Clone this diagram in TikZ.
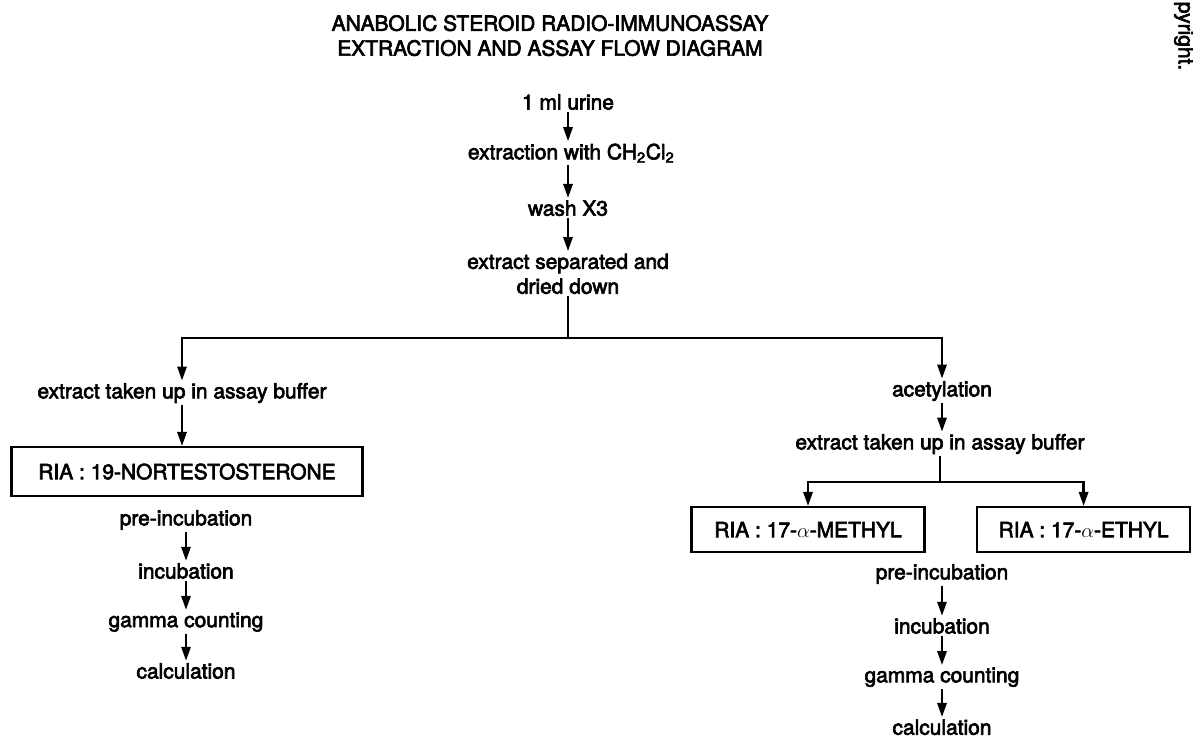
\documentclass[tikz,border=0pt]{standalone}
\usepackage{fontspec}
\setmainfont{TeX Gyre Heros}[FakeBold=3]
\usetikzlibrary{calc, arrows.meta}

\begin{document}
\begin{tikzpicture}[font=\fontsize{14.9}{17.7}\selectfont, >={Triangle[length=10pt, width=6.5pt]}]
    \tikzstyle{stage} = [inner xsep=3pt, inner ysep=1.5pt]
    \tikzstyle{ria} = [rectangle, draw=black, line width=1.5pt, inner sep=2pt]
    \tikzstyle{flow} = [line width=1.8pt]

    \useasboundingbox (0, 0) rectangle (29.825, -18.5);

    % Title ---------------------------------------------
    \node (title) at (13.75, -0.89) [align=center] {ANABOLIC STEROID RADIO-IMMUNOASSAY\\EXTRACTION AND ASSAY FLOW DIAGRAM};
    \node (margin) at (29.6, -0.9) [rotate=-90] {pyright.};

    % Extraction ----------------------------------------
    \node (U) at (14.2, -2.55) [stage] {1 ml urine};
    \node (E) at ($(U) + (.08, -1.28)$) [stage] {extraction with CH\textsubscript{2}Cl\textsubscript{2}};
    \node (W) at ($(E) + (-.08, -1.375)$) [stage] {wash X3};
    \node (S) at ($(W) + (0, -1.64)$) [stage, align=center] {extract separated and\\dried down};
    \coordinate (J) at ($(S) + (0, -1.6)$);

    \draw [flow, ->] (U) -- (U |- E.north);
    \draw [flow, ->] (U |- E.south) -- (W);
    \draw [flow, ->] (W) -- (S);
    \draw [flow] (S) -- (J);
    % ---------------------------------------------------

    % 19-nortestosterone --------------------------------
    \node (L1) at (4.55, -9.825) [stage] {extract taken up in assay buffer};
    \node (NOR) at ($(L1) + (.125, -1.965)$) [ria, minimum width=8.775cm, minimum height=1.225cm] {RIA : 19-NORTESTOSTERONE};
    \node (L2) at ($(NOR) + (-.025, -1.21)$) [stage] {pre-incubation};
    \node (L3) at ($(L2) + (0, -1.275)$) [stage] {incubation};
    \node (L4) at ($(L3) + (0, -1.275)$) [stage] {gamma counting};
    \node (L5) at ($(L4) + (0, -1.225)$) [stage] {calculation};

    \draw [flow, ->] (J) -| (L1.north);
    \draw [flow, ->] (L1) -- (L1 |- NOR.north);
    \draw [flow, ->] (L2) -- (L3);
    \draw [flow, ->] (L3) -- (L4);
    \draw [flow, ->] (L4) -- (L5);
    % ---------------------------------------------------

    % 17-alpha-methyl and 17-alpha-ethyl ----------------
    \node (R1) at (23.55, -9.775) [stage] {acetylation};
    \node (R2) at ($(R1) + (-.05, -1.325)$) [stage] {extract taken up in assay buffer};
    \coordinate (K) at ($(R2) + (0, -.95)$);
    \node (ME) at (20.2, -13.24) [ria, minimum width=5.825cm, minimum height=1.125cm] {RIA : 17-$\alpha$-METHYL};
    \node (ET) at (27.09, -13.24) [ria, minimum width=5.325cm, minimum height=1.125cm] {RIA : 17-$\alpha$-ETHYL};
    \node (Q1) at (23.55, -14.35) [stage] {pre-incubation};
    \node (Q2) at ($(Q1) + (0, -1.3)$) [stage] {incubation};
    \node (Q3) at ($(Q2) + (0, -1.28)$) [stage] {gamma counting};
    \node (Q4) at ($(Q3) + (0, -1.25)$) [stage] {calculation};

    \draw [flow, ->] (J) -| (R1.north);
    \draw [flow, ->] (R1) -- (R1 |- R2.north);
    \draw [flow] (R2) -- (K);
    \draw [flow, ->] (K) -| (ME.north);
    \draw [flow, ->] (K) -| (ET.north);
    \draw [flow, ->] (Q1) -- (Q2);
    \draw [flow, ->] (Q2) -- (Q3);
    \draw [flow, ->] (Q3) -- (Q4);
\end{tikzpicture}
\end{document}
